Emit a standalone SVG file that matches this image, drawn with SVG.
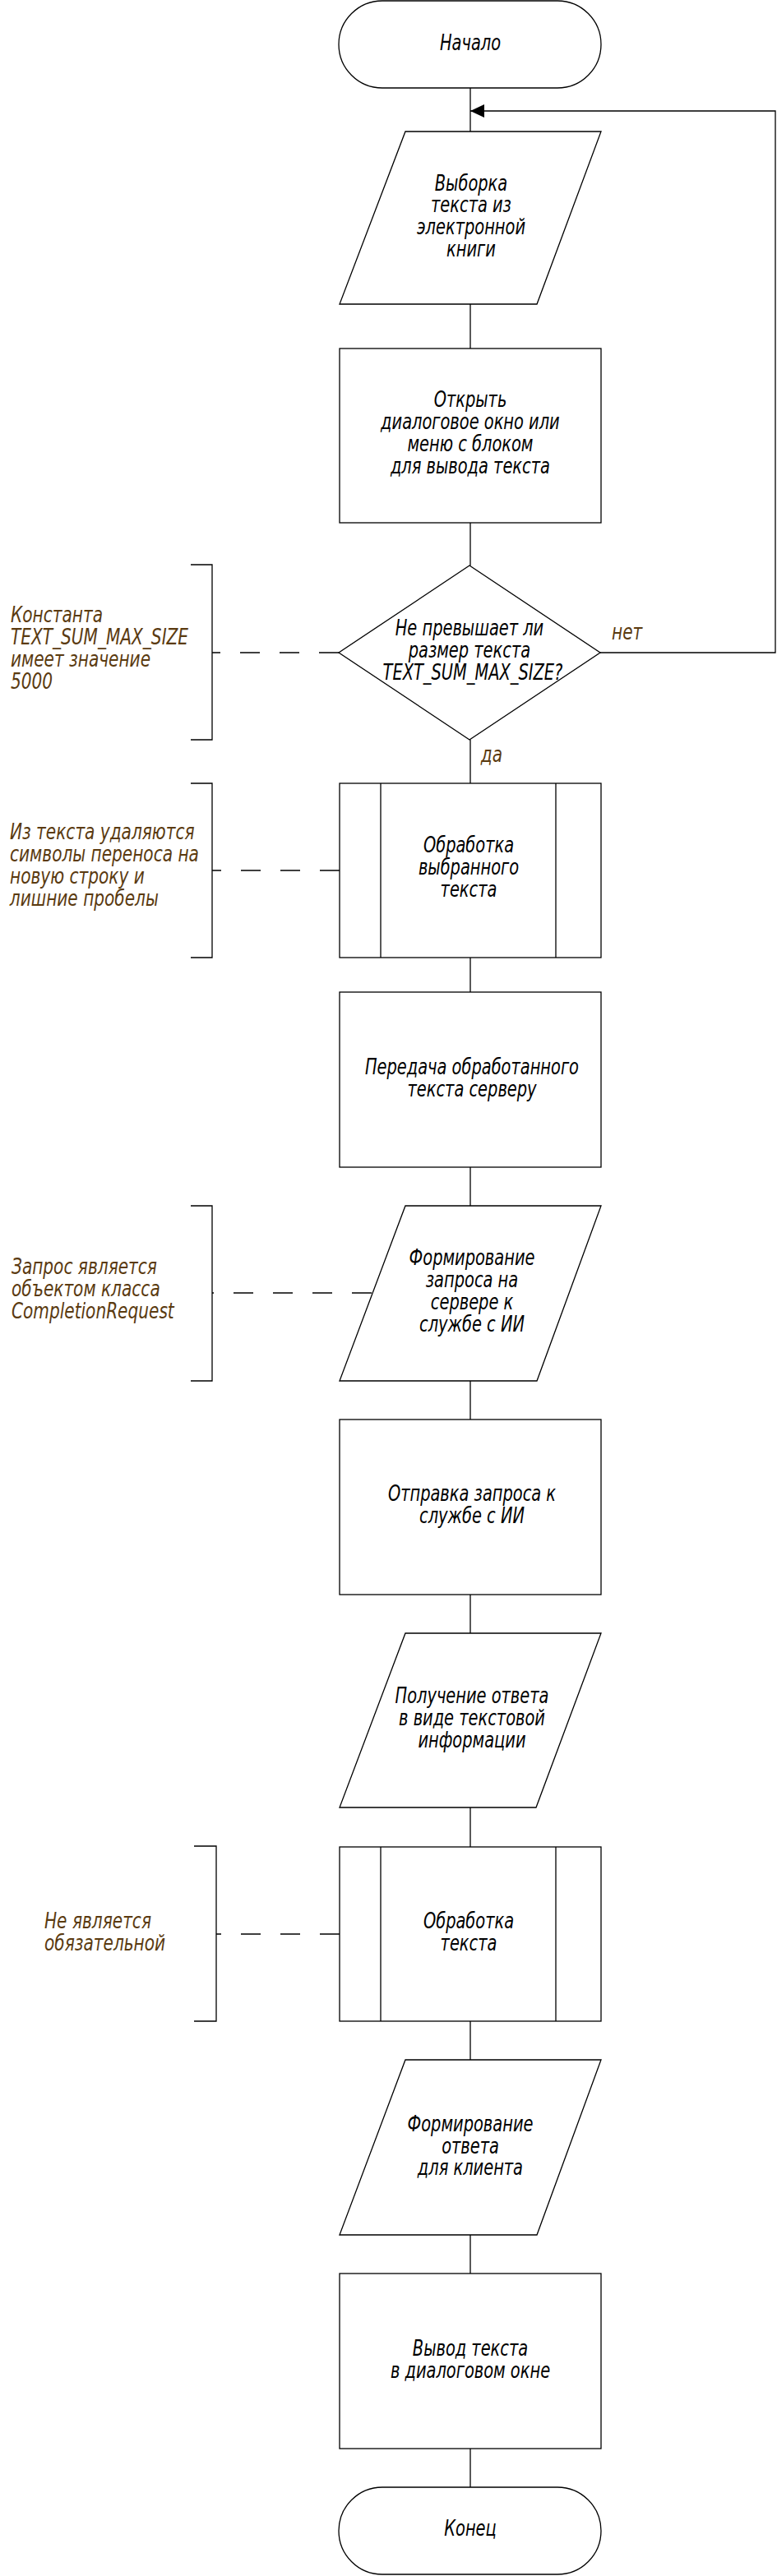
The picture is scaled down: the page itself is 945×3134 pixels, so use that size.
<svg xmlns="http://www.w3.org/2000/svg" width="945" height="3134" viewBox="0 0 945 3134">
<defs>
<style>
.s{fill:#fff;stroke:#000;stroke-width:1.3}
.l{fill:none;stroke:#000;stroke-width:1.3}
.d{fill:none;stroke:#000;stroke-width:1.3;stroke-dasharray:24 24}
.t{font-family:"Liberation Sans Narrow","DejaVu Sans Condensed","Liberation Sans",sans-serif;font-style:italic;font-size:26px;fill:#000;text-anchor:middle;transform-box:fill-box;transform-origin:center;transform:scaleX(0.83)}
.c{font-family:"Liberation Sans Narrow","DejaVu Sans Condensed","Liberation Sans",sans-serif;font-style:italic;font-size:26px;fill:#5a3a10;transform-box:fill-box;transform-origin:left center;transform:scaleX(0.86)}
</style>
<marker id="ah" markerWidth="18" markerHeight="16" refX="17" refY="8" orient="auto" markerUnits="userSpaceOnUse">
<path d="M0,0 L17,8 L0,16 Z" fill="#000"/>
</marker>
</defs>
<rect width="945" height="3134" fill="#fff"/>
<g id="connectors">
<path class="l" d="M572,107 V160"/>
<path class="l" d="M572,370 V424"/>
<path class="l" d="M572,636 V688"/>
<path class="l" d="M572,900 V953"/>
<path class="l" d="M572,1165 V1207"/>
<path class="l" d="M572,1420 V1467"/>
<path class="l" d="M572,1680 V1727"/>
<path class="l" d="M572,1940 V1987"/>
<path class="l" d="M572,2199 V2247"/>
<path class="l" d="M572,2459 V2506"/>
<path class="l" d="M572,2719 V2766"/>
<path class="l" d="M572,2979 V3026"/>
<path class="l" d="M730,794 H943 V135 H572" marker-end="url(#ah)"/>
<text class="c" x="744" y="778">нет</text>
<text class="c" x="585" y="927">да</text>
<path class="d" d="M412,794 H258"/>
<path class="d" d="M413,1059 H258"/>
<path class="d" d="M452,1573 H258"/>
<path class="d" d="M413,2353 H263"/>
</g>
<g id="start">
<rect class="s" x="412" y="1" width="319" height="106" rx="53" ry="53"/>
<text class="t" x="572" y="61">Начало</text>
</g>
<g id="select">
<polygon class="s" points="493,160 731,160 653,370 413,370"/>
<text class="t" x="573" y="232">Выборка</text>
<text class="t" x="573" y="258">текста из</text>
<text class="t" x="573" y="285">электронной</text>
<text class="t" x="573" y="312">книги</text>
</g>
<g id="open">
<rect class="s" x="413" y="424" width="318" height="212"/>
<text class="t" x="572" y="495">Открыть</text>
<text class="t" x="572" y="522">диалоговое окно или</text>
<text class="t" x="572" y="549">меню с блоком</text>
<text class="t" x="572" y="576">для вывода текста</text>
</g>
<g id="check">
<polygon class="s" points="571,688 730,794 571,900 412,794"/>
<text class="t" x="571" y="773">Не превышает ли</text>
<text class="t" x="571" y="800">размер текста</text>
<text class="t" x="575" y="827">TEXT_SUM_MAX_SIZE?</text>
</g>
<g id="note1">
<path class="l" d="M232,687 H258 V900 H232"/>
<text class="c" x="13" y="757">Константа</text>
<text class="c" x="13" y="784">TEXT_SUM_MAX_SIZE</text>
<text class="c" x="13" y="811">имеет значение</text>
<text class="c" x="13" y="838">5000</text>
</g>
<g id="process1">
<rect class="s" x="413" y="953" width="318" height="212"/>
<path class="l" d="M463,953 V1165 M676,953 V1165"/>
<text class="t" x="570" y="1037">Обработка</text>
<text class="t" x="570" y="1064">выбранного</text>
<text class="t" x="570" y="1091">текста</text>
</g>
<g id="note2">
<path class="l" d="M232,953 H258 V1165 H232"/>
<text class="c" x="12" y="1021">Из текста удаляются</text>
<text class="c" x="12" y="1048">символы переноса на</text>
<text class="c" x="12" y="1075">новую строку и</text>
<text class="c" x="12" y="1102">лишние пробелы</text>
</g>
<g id="transfer">
<rect class="s" x="413" y="1207" width="318" height="213"/>
<text class="t" x="574" y="1307">Передача обработанного</text>
<text class="t" x="574" y="1334">текста серверу</text>
</g>
<g id="form-request">
<polygon class="s" points="493,1467 731,1467 653,1680 413,1680"/>
<text class="t" x="574" y="1539">Формирование</text>
<text class="t" x="574" y="1566">запроса на</text>
<text class="t" x="574" y="1593">сервере к</text>
<text class="t" x="574" y="1620">службе с ИИ</text>
</g>
<g id="note3">
<path class="l" d="M232,1467 H258 V1680 H232"/>
<text class="c" x="14" y="1550">Запрос является</text>
<text class="c" x="14" y="1577">объектом класса</text>
<text class="c" x="14" y="1604">CompletionRequest</text>
</g>
<g id="send">
<rect class="s" x="413" y="1727" width="318" height="213"/>
<text class="t" x="574" y="1826">Отправка запроса к</text>
<text class="t" x="574" y="1853">службе с ИИ</text>
</g>
<g id="receive">
<polygon class="s" points="493,1987 731,1987 652,2199 413,2199"/>
<text class="t" x="574" y="2072">Получение ответа</text>
<text class="t" x="574" y="2099">в виде текстовой</text>
<text class="t" x="574" y="2126">информации</text>
</g>
<g id="process2">
<rect class="s" x="413" y="2247" width="318" height="212"/>
<path class="l" d="M463,2247 V2459 M676,2247 V2459"/>
<text class="t" x="570" y="2346">Обработка</text>
<text class="t" x="570" y="2373">текста</text>
</g>
<g id="note4">
<path class="l" d="M236,2246 H263 V2459 H236"/>
<text class="c" x="54" y="2346">Не является</text>
<text class="c" x="54" y="2373">обязательной</text>
</g>
<g id="form-response">
<polygon class="s" points="493,2506 731,2506 653,2719 413,2719"/>
<text class="t" x="572" y="2593">Формирование</text>
<text class="t" x="572" y="2620">ответа</text>
<text class="t" x="572" y="2646">для клиента</text>
</g>
<g id="output">
<rect class="s" x="413" y="2766" width="318" height="213"/>
<text class="t" x="572" y="2866">Вывод текста</text>
<text class="t" x="572" y="2893">в диалоговом окне</text>
</g>
<g id="end">
<rect class="s" x="412" y="3026" width="319" height="106" rx="53" ry="53"/>
<text class="t" x="572" y="3085">Конец</text>
</g>
</svg>
